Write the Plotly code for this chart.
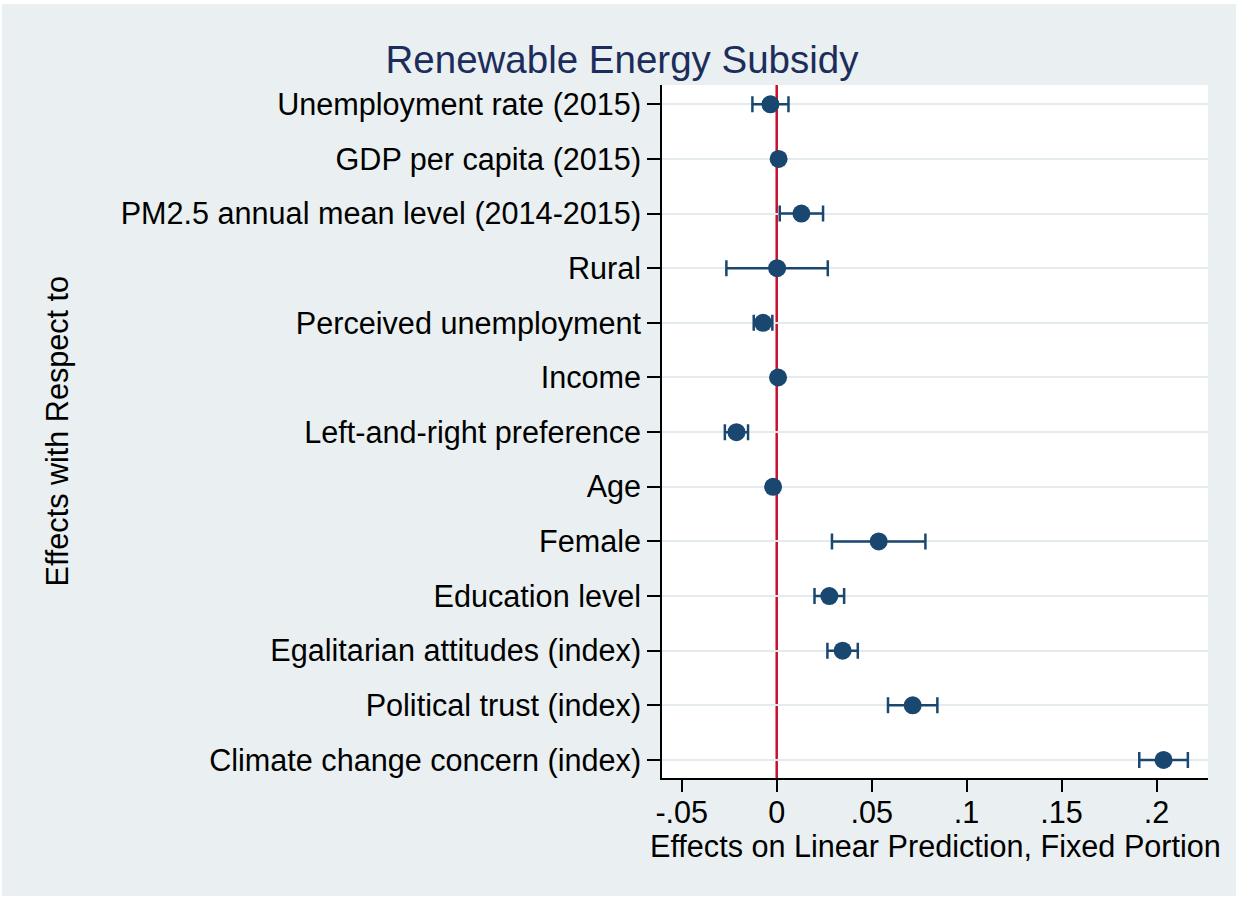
import plotly.graph_objects as go

categories = [
    "Unemployment rate (2015)",
    "GDP per capita (2015)",
    "PM2.5 annual mean level (2014-2015)",
    "Rural",
    "Perceived unemployment",
    "Income",
    "Left-and-right preference",
    "Age",
    "Female",
    "Education level",
    "Egalitarian attitudes (index)",
    "Political trust (index)",
    "Climate change concern (index)",
]
estimates = [-0.0033, 0.0010, 0.0130, 0.0002, -0.0072, 0.0007, -0.0212,
             -0.0019, 0.0537, 0.0277, 0.0347, 0.0716, 0.2037]
ci_half = [0.0095, 0.0005, 0.0114, 0.0267, 0.0049, 0.0004, 0.0061,
           0.0004, 0.0246, 0.0078, 0.0080, 0.0130, 0.0128]

tick_vals = [-0.05, 0, 0.05, 0.1, 0.15, 0.2]
tick_text = ["-.05", "0", ".05", ".1", ".15", ".2"]

NAVY = "#1a476f"
BG = "#eaf0f1"
GRID = "#e4ebee"
FONT = "Liberation Sans, Arial, Helvetica, sans-serif"
FS = 30.6

fig = go.Figure()
fig.add_trace(go.Scatter(
    x=estimates, y=categories, mode="markers",
    marker=dict(color=NAVY, size=18, line=dict(width=0)),
    error_x=dict(type="data", array=ci_half, visible=True,
                 color=NAVY, thickness=2.5, width=8),
    showlegend=False, hoverinfo="x+y",
))

W, H = 1238, 898
L, R, T, B = 662, 30, 85, 120
pw, ph = W - L - R, H - T - B

def px_to_paper_x(px):
    return (px - L) / pw

def px_to_paper_y(py):
    return 1 - (py - T) / ph

shapes = [
    dict(type="rect", xref="paper", yref="paper", layer="below",
         x0=px_to_paper_x(2), x1=px_to_paper_x(1236),
         y0=px_to_paper_y(896), y1=px_to_paper_y(4),
         fillcolor=BG, line=dict(width=0)),
    dict(type="rect", xref="paper", yref="paper", layer="below",
         x0=0, x1=1, y0=0, y1=1, fillcolor="white", line=dict(width=0)),
    dict(type="line", xref="x", yref="paper", layer="below",
         x0=0, x1=0, y0=0, y1=1, line=dict(color="#c8102e", width=2.5)),
]

annotations = [
    dict(text="Effects with Respect to", xref="paper", yref="paper",
         x=px_to_paper_x(57), y=0.5, xanchor="center", yanchor="middle",
         textangle=-90, showarrow=False,
         font=dict(family=FONT, size=FS, color="black")),
    dict(text="Effects on Linear Prediction, Fixed Portion", xref="paper", yref="paper",
         x=0.5, y=px_to_paper_y(846), xanchor="center", yanchor="middle",
         showarrow=False, font=dict(family=FONT, size=FS, color="black")),
]

fig.update_layout(
    width=W, height=H,
    margin=dict(l=L, r=R, t=T, b=B, pad=0),
    paper_bgcolor="white", plot_bgcolor="white",
    font=dict(family=FONT, size=FS, color="black"),
    title=dict(text="Renewable Energy Subsidy", x=622 / W, xref="container",
               y=1 - 60 / H, yref="container", xanchor="center", yanchor="middle",
               font=dict(family=FONT, size=38.5, color="#1c2d5c")),
    shapes=shapes, annotations=annotations,
    xaxis=dict(range=[-0.0604, 0.2271], tickvals=tick_vals, ticktext=tick_text,
               showgrid=False, zeroline=False, showline=True, linecolor="black",
               linewidth=1.6, ticks="outside", ticklen=12, tickwidth=1.6,
               tickcolor="black", tickfont=dict(family=FONT, size=FS, color="black"),
               ticklabelstandoff=-6, mirror=False),
    yaxis=dict(type="category", categoryorder="array", categoryarray=categories,
               range=[12.33, -0.353], showgrid=True, gridcolor=GRID, gridwidth=2.2,
               zeroline=False, showline=True, linecolor="black", linewidth=1.6,
               ticks="outside", ticklen=13, tickwidth=1.6, tickcolor="black",
               tickfont=dict(family=FONT, size=FS, color="black")),
)

fig.write_html("out.html", config={"displayModeBar": False},
               post_script="document.body.style.margin='0';document.body.style.overflow='hidden';")
